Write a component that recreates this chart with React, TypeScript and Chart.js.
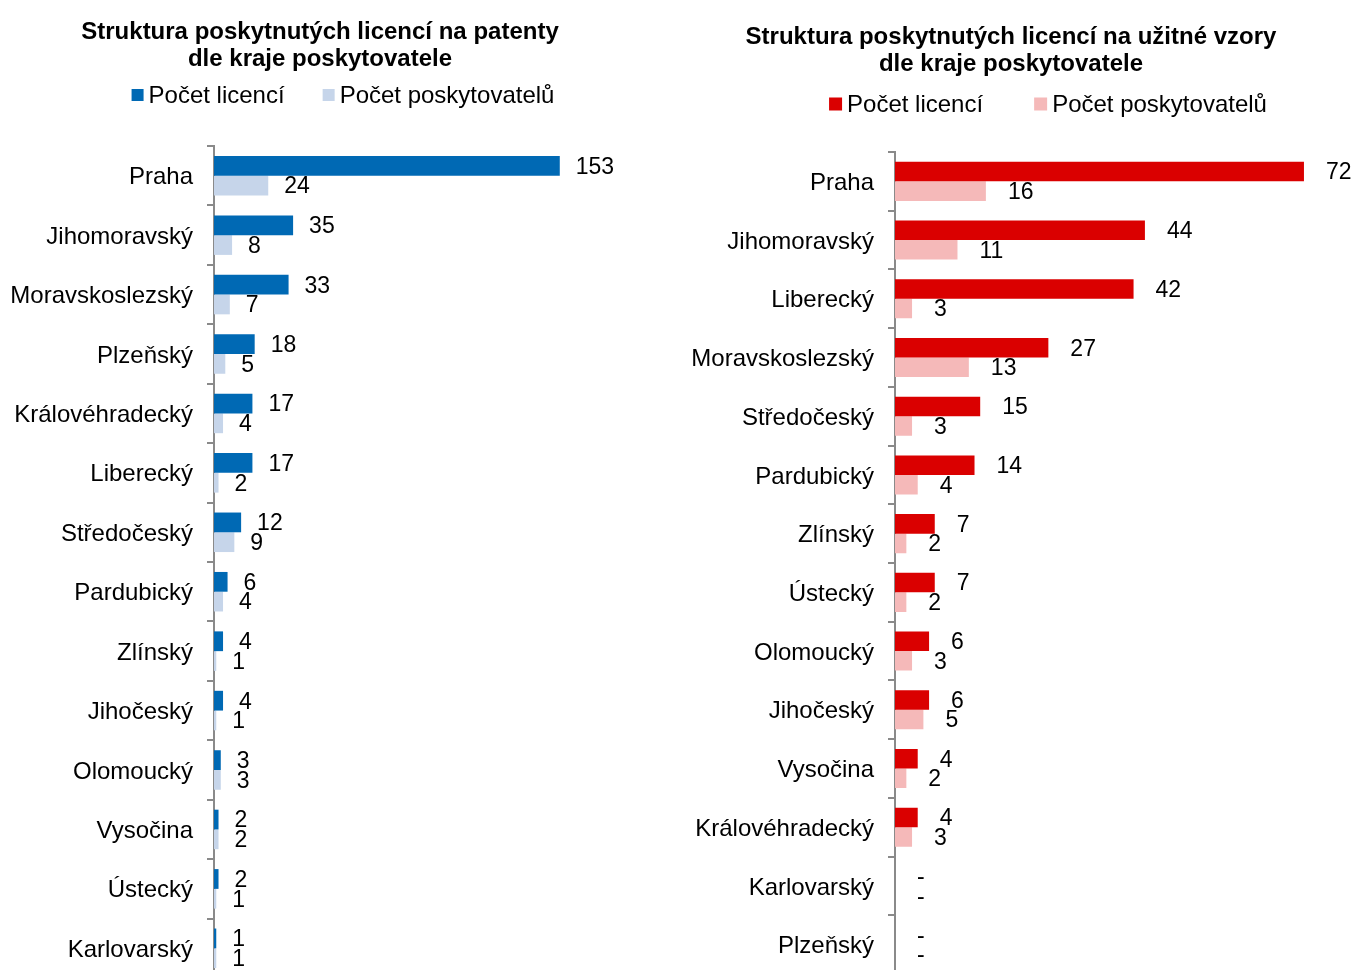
import React, { useEffect, useRef } from "react";
import { Chart, registerables } from "chart.js";

Chart.register(...registerables);

const FONT_FAMILY = "'Liberation Sans', Arial, Helvetica, sans-serif";

// ---- Left chart: patents ----
const patentCategories = [
  "Praha",
  "Jihomoravský",
  "Moravskoslezský",
  "Plzeňský",
  "Královéhradecký",
  "Liberecký",
  "Středočeský",
  "Pardubický",
  "Zlínský",
  "Jihočeský",
  "Olomoucký",
  "Vysočina",
  "Ústecký",
  "Karlovarský",
];
const patentLicences = [153, 35, 33, 18, 17, 17, 12, 6, 4, 4, 3, 2, 2, 1];
const patentProviders = [24, 8, 7, 5, 4, 2, 9, 4, 1, 1, 3, 2, 1, 1];
const patentTitle = ["Struktura poskytnutých licencí na patenty", "dle kraje poskytovatele"];

// ---- Right chart: utility models ----
const modelCategories = [
  "Praha",
  "Jihomoravský",
  "Liberecký",
  "Moravskoslezský",
  "Středočeský",
  "Pardubický",
  "Zlínský",
  "Ústecký",
  "Olomoucký",
  "Jihočeský",
  "Vysočina",
  "Královéhradecký",
  "Karlovarský",
  "Plzeňský",
];
const modelLicences = [72, 44, 42, 27, 15, 14, 7, 7, 6, 6, 4, 4, 0, 0];
const modelProviders = [16, 11, 3, 13, 3, 4, 2, 2, 3, 5, 2, 3, 0, 0];
const modelTitle = ["Struktura poskytnutých licencí na užitné vzory", "dle kraje poskytovatele"];

const seriesNames = ["Počet licencí", "Počet poskytovatelů"];

const CANVAS_H = 980;

type PanelProps = {
  categories: string[];
  licences: number[];
  providers: number[];
  title: string[];
  colors: [string, string];
  xMax: number;
  left: number;
  width: number;
  areaTop: number;
  areaLeft: number;
  padRight: number;
  padBottom: number;
  titleX: number;
  titleY: number;
  legendX: number;
  legendY: number;
  legendGap: number;
  labelOffset: number;
  boxSize: number;
};

function BarPanel(p: PanelProps) {
  const ref = useRef<HTMLCanvasElement | null>(null);

  useEffect(() => {
    if (!ref.current) return;
    const overlay = {
      id: "overlay",
      afterDatasetsDraw(chart: any) {
        const ctx = chart.ctx as CanvasRenderingContext2D;
        ctx.save();
        // value labels
        ctx.font = `23px ${FONT_FAMILY}`;
        ctx.fillStyle = "#000";
        ctx.textBaseline = "middle";
        ctx.textAlign = "left";
        chart.data.datasets.forEach((ds: any, di: number) => {
          const meta = chart.getDatasetMeta(di);
          meta.data.forEach((bar: any, i: number) => {
            const v = ds.data[i];
            const txt = v === 0 ? "-" : String(v);
            ctx.fillText(txt, bar.x + p.labelOffset, bar.y + 1.5);
          });
        });
        // title
        ctx.font = `bold 24px ${FONT_FAMILY}`;
        ctx.textAlign = "center";
        p.title.forEach((line, k) => ctx.fillText(line, p.titleX, p.titleY + k * 27));
        // legend
        ctx.font = `24px ${FONT_FAMILY}`;
        ctx.textAlign = "left";
        const textGap = 5;
        const widths = seriesNames.map((s) => p.boxSize + textGap + ctx.measureText(s).width);
        const total = widths[0] + p.legendGap + widths[1];
        let x = p.legendX - total / 2;
        seriesNames.forEach((s, i) => {
          ctx.fillStyle = p.colors[i];
          ctx.fillRect(x, p.legendY - p.boxSize / 2, p.boxSize, p.boxSize);
          ctx.fillStyle = "#000";
          ctx.fillText(s, x + p.boxSize + textGap, p.legendY + 1.5);
          x += widths[i] + p.legendGap;
        });
        ctx.restore();
      },
    };

    const chart = new Chart(ref.current, {
      type: "bar",
      data: {
        labels: p.categories,
        datasets: [
          {
            label: seriesNames[0],
            data: p.licences,
            backgroundColor: p.colors[0],
            borderWidth: 0,
            categoryPercentage: 0.665,
            barPercentage: 1,
          },
          {
            label: seriesNames[1],
            data: p.providers,
            backgroundColor: p.colors[1],
            borderWidth: 0,
            categoryPercentage: 0.665,
            barPercentage: 1,
          },
        ],
      },
      options: {
        indexAxis: "y",
        responsive: false,
        animation: false,
        devicePixelRatio: 1,
        layout: {
          padding: { top: p.areaTop, left: 0, right: p.padRight, bottom: p.padBottom },
        },
        plugins: {
          legend: { display: false },
          title: { display: false },
          tooltip: { enabled: false },
        },
        scales: {
          x: { display: false, min: 0, max: p.xMax },
          y: {
            display: true,
            grid: {
              display: true,
              drawOnChartArea: false,
              drawTicks: true,
              tickLength: 7,
              color: "#8a8a8a",
              lineWidth: 2,
              offset: true,
            },
            border: { display: true, color: "#8a8a8a", width: 2 },
            ticks: {
              padding: 14,
              labelOffset: 2,
              color: "#000",
              font: { family: FONT_FAMILY, size: 24 },
              autoSkip: false,
            },
            afterFit: (scale: any) => {
              scale.width = p.areaLeft;
              scale.paddingTop = 0;
              scale.paddingBottom = 0;
            },
          },
        },
      },
      plugins: [overlay],
    } as any);
    return () => chart.destroy();
  }, []);

  return (
    <canvas
      ref={ref}
      width={p.width}
      height={CANVAS_H}
      style={{ position: "absolute", left: p.left, top: 0, width: p.width, height: CANVAS_H }}
    />
  );
}

export default function App() {
  return (
    <div
      style={{
        position: "absolute",
        left: 0,
        top: 0,
        width: 1356,
        height: 970,
        overflow: "hidden",
        background: "#fff",
      }}
    >
      <BarPanel
        categories={patentCategories}
        licences={patentLicences}
        providers={patentProviders}
        title={patentTitle}
        colors={["#0069B4", "#C6D5EA"]}
        xMax={200}
        left={0}
        width={680}
        areaTop={146}
        areaLeft={214}
        padRight={14}
        padBottom={2}
        titleX={320}
        titleY={32}
        legendX={343}
        legendY={95}
        legendGap={38}
        labelOffset={16}
        boxSize={12}
      />
      <BarPanel
        categories={modelCategories}
        licences={modelLicences}
        providers={modelProviders}
        title={modelTitle}
        colors={["#DA0000", "#F5B9B9"]}
        xMax={80}
        left={680}
        width={676}
        areaTop={152}
        areaLeft={215}
        padRight={6.6}
        padBottom={6}
        titleX={331}
        titleY={37}
        legendX={368}
        legendY={104}
        legendGap={51}
        labelOffset={22}
        boxSize={13}
      />
    </div>
  );
}
